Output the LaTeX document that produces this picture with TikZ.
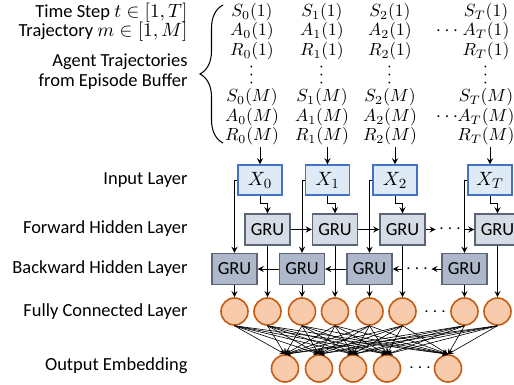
\documentclass[tikz,border=0pt]{standalone}
\usepackage[no-math]{fontspec}
\setmainfont{Carlito}
\usepackage{tikz}
\usetikzlibrary{arrows,calc,positioning,decorations.pathreplacing}
\definecolor{inblau}{HTML}{DEEBF7}
\definecolor{inrand}{HTML}{4472C4}
\definecolor{vorgrau}{HTML}{D6DCE5}
\definecolor{rueckgrau}{HTML}{ADB9CA}
\definecolor{grurand}{HTML}{5B6576}
\definecolor{kreisfuell}{HTML}{F8CBAD}
\definecolor{kreisrand}{HTML}{C55A11}
\begin{document}
\begin{tikzpicture}[x=0.02cm,y=-0.02cm,>=stealth,line width=0.55pt,
  lab/.style={anchor=east,inner sep=0pt,font=\fontsize{10.5}{11}\selectfont},
  mat/.style={inner sep=0.5pt,font=\fontsize{10}{11}\selectfont},
  eingabe/.style={draw=inrand,fill=inblau,line width=0.8pt,inner sep=0pt,minimum width=0.88cm,minimum height=0.6cm,font=\fontsize{11}{12}\selectfont},
  vorgru/.style={draw=grurand,fill=vorgrau,line width=0.8pt,inner sep=0pt,minimum width=0.9cm,minimum height=0.62cm,font=\fontsize{10.5}{11}\selectfont},
  rueckgru/.style={vorgru,fill=rueckgrau},
  neuron/.style={circle,draw=kreisrand,fill=kreisfuell,line width=0.9pt,inner sep=0pt,minimum size=0.54cm},
  punkte/.style={inner sep=1.5pt,font=\fontsize{10.5}{11}\selectfont}]
\useasboundingbox (0,0) rectangle (514,385);
%Beschriftungen links
\node[lab] (zeit) at (188,13) {Time Step $t\in[1,T]$};
\node[lab] (traj) at (188,32) {Trajectory $m\in[1,M]$};
\node[lab,align=right] (puffer) at (188,71.5) {Agent Trajectories\\from Episode Buffer};
\node[lab] (inlab) at (188,180) {Input Layer};
\node[lab] (vorlab) at (188,228.5) {Forward Hidden Layer};
\node[lab] (rueclab) at (188,268.5) {Backward Hidden Layer};
\node[lab] (fclab) at (188,312) {Fully Connected Layer};
\node[lab] (outlab) at (188,365.5) {Output Embedding};
%Klammer um die Trajektorien
\draw[line width=0.6pt,decorate,decoration={brace,amplitude=0.46cm}] (223,143) -- (223,5);
%Spalten: Name / x der Eingabe / x des Textes
\foreach \i/\xx/\mx in {0/260/252,1/327.5/322,2/395/390,T/490/486}{
  \node[mat] (SA\i) at (\mx,12) {$S_{\i}(1)$};
  \node[mat] (AA\i) at (\mx,31.5) {$A_{\i}(1)$};
  \node[mat] (RA\i) at (\mx,51) {$R_{\i}(1)$};
  \node[mat,inner sep=0pt,rotate=90] (VD\i) at (\mx,75) {$\cdots$};
  \node[mat] (SM\i) at (\mx,97.5) {$S_{\i}(M)$};
  \node[mat] (AM\i) at (\mx,117) {$A_{\i}(M)$};
  \node[mat] (RM\i) at (\mx,136.5) {$R_{\i}(M)$};
  \node[eingabe] (X\i) at (\xx,180) {$X_{\i}$};
  \node[vorgru] (F\i) at (\xx+7.5,229.5) {GRU};
  \node[rueckgru] (B\i) at (\xx-25.5,269) {GRU};
  \node[neuron] (CB\i) at (\xx-25.5,311.5) {};
  \node[neuron] (CF\i) at (\xx+7.5,311.5) {};
  \draw[->] (RM\i.south -| X\i.north) -- (X\i.north);
  \draw[->] (X\i.south) -- ++(0,8) -| (F\i.north);
  \draw[->] (X\i.west) -| (B\i.north);
  \draw[->] (F\i.south) -- (CF\i.north);
  \draw[->] (B\i.south) -- (CB\i.north);
}
\node[punkte] (adots1) at (447,31.5) {$\cdots$};
\node[punkte] (adotsM) at (447,117) {$\cdots$};
%Vorwaerts und rueckwaerts
\node[punkte] (fdots) at (450,229.5) {$\cdots$};
\node[punkte] (bdots) at (417,269) {$\cdots$};
\draw[->] (F0) -- (F1);
\draw[->] (F1) -- (F2);
\draw[->] (F2) -- (fdots);
\draw[->] (fdots) -- (FT);
\draw[->] (B1) -- (B0);
\draw[->] (B2) -- (B1);
\draw[->] (bdots) -- (B2);
\draw[->] (BT) -- (bdots);
%Ausgabe
\node[punkte] (cdots) at (435,312) {$\cdots$};
\foreach \k/\ox in {1/285,2/319,3/353,4/387,5/448}{
  \node[neuron] (O\k) at (\ox,368.5) {};
}
\node[punkte] (odots) at (420,368.5) {$\cdots$};
\foreach \a in {CB0,CF0,CB1,CF1,CB2,CF2,CBT,CFT}{
  \foreach \k in {1,...,5}{
    \draw[->,line width=0.35pt] (\a.south) -- (O\k.north);
  }
}
\end{tikzpicture}
\end{document}
